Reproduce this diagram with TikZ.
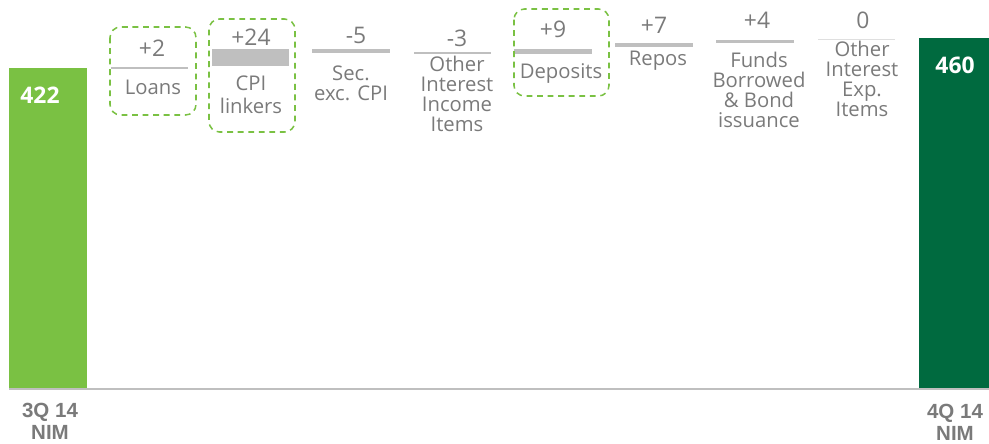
\documentclass[tikz,border=0pt]{standalone}
\usepackage{fontspec}
\setmainfont{Open Sans}
\newfontfamily\axisfont{Liberation Sans}
\usetikzlibrary{positioning}
\definecolor{lightgrn}{HTML}{7AC143}
\definecolor{darkgrn}{HTML}{006A3F}
\definecolor{txtgray}{HTML}{7A7A7A}
\definecolor{bargray}{HTML}{BFBFBF}
\tikzset{
  valtxt/.style={inner sep=0pt, text=txtgray, font=\fontsize{19.5}{17}\selectfont},
  labtxt/.style={inner sep=0pt, text=txtgray, align=center, font=\fontsize{17.3}{17}\selectfont},
  totaltxt/.style={inner sep=0pt, text=white, font=\fontsize{19.5}{18}\selectfont\bfseries},
  axistxt/.style={inner sep=0pt, text=txtgray, align=center, font=\fontsize{17.5}{19}\selectfont\axisfont\bfseries},
  stepbar/.style={fill=bargray},
  hilite/.style={draw=lightgrn, line width=1.3pt, dash pattern=on 5pt off 4pt, rounded corners=9pt}
}
\begin{document}
\begin{tikzpicture}[x=0.03cm, y=-0.03cm]
  \useasboundingbox (0,0) rectangle (989,443);

  % start and end totals
  \fill[lightgrn] (9,68) rectangle (87,388);
  \fill[darkgrn] (919,38) rectangle (989,388);
  \node[totaltxt] (v422) at (40,95) {422};
  \node[totaltxt] (v460) at (955,65) {460};
  \draw[bargray, line width=1.6pt] (9,389) -- (989,389);
  \node[axistxt] (q3) at (50,421) {3Q 14\\NIM};
  \node[axistxt] (q4) at (955,422) {4Q 14\\NIM};

  % loans
  \fill[stepbar] (111,67) rectangle (188,69);
  \node[valtxt] (vloans) at (152,48) {+2};
  \node[labtxt] (lloans) at (153,87) {Loans};
  \draw[hilite] (110,27) rectangle (196,115);

  % cpi linkers
  \fill[stepbar] (212,49) rectangle (289,66);
  \node[valtxt] (vcpi) at (251,37) {+24};
  \node[labtxt] (lcpi) at (251,95) {CPI\\[3pt]linkers};
  \draw[hilite] (209,19) rectangle (295,132);

  % securities
  \fill[stepbar] (312,49) rectangle (390,53);
  \node[valtxt] (vsec) at (356,35) {-5};
  \node[labtxt] (lsec) at (351,83) {Sec.\\exc. CPI};

  % other income
  \fill[stepbar] (414,52) rectangle (491,54);
  \node[valtxt] (voii) at (457,38) {-3};
  \node[labtxt] (loii) at (457,94) {Other\\Interest\\Income\\Items};

  % deposits
  \fill[stepbar] (514,49) rectangle (592,54);
  \node[valtxt] (vdep) at (553,29) {+9};
  \node[labtxt] (ldep) at (561,73) {Deposits};
  \draw[hilite] (514,9) rectangle (609,96);

  % repos
  \fill[stepbar] (615,43) rectangle (693,47);
  \node[valtxt] (vrep) at (654,25) {+7};
  \node[labtxt] (lrep) at (658,61) {Repos};

  % funds borrowed
  \fill[stepbar] (716,40) rectangle (794,43);
  \node[valtxt] (vfund) at (757,20) {+4};
  \node[labtxt] (lfund) at (759,90) {Funds\\Borrowed\\\& Bond\\issuance};

  % other expense
  \fill[bargray!50] (818,39) rectangle (895,40);
  \node[valtxt] (voie) at (863,20) {0};
  \node[labtxt] (loie) at (862,79) {Other\\Interest\\Exp.\\Items};
\end{tikzpicture}
\end{document}
